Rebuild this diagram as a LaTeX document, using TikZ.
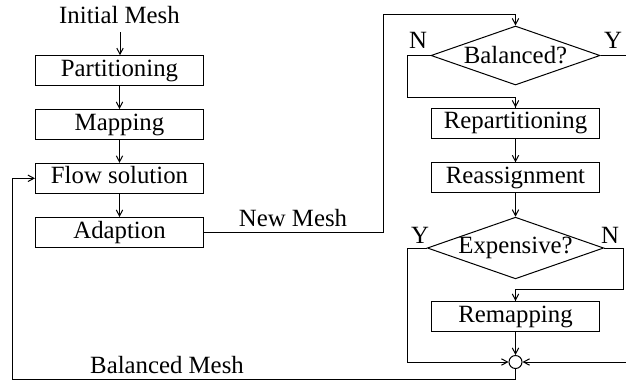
\documentclass[tikz,border=0pt]{standalone}
\usepackage{fontspec}
\setmainfont{Liberation Serif}
\usetikzlibrary{shapes.geometric,arrows.meta}
\begin{document}
\begin{tikzpicture}[x=0.5pt,y=-0.5pt,
  font=\fontsize{12.4}{14}\selectfont,
  line width=0.5pt,
  >={Straight Barb[length=3pt,width=3.2pt]},
  stepbox/.style={draw,rectangle,minimum width=84pt,minimum height=15pt,inner sep=0pt,
    text height=0.68em,text depth=0.12em},
  decision/.style={draw,diamond,aspect=2.86,minimum width=84.5pt,minimum height=29.5pt,inner sep=0pt},
  joint/.style={draw,circle,minimum size=6.5pt,inner sep=0pt},
  lbl/.style={anchor=base,inner sep=0pt}]
\useasboundingbox (0,0) rectangle (626,382);

% left column: mesh processing
\node[lbl] (init) at (119.5,23) {Initial Mesh};
\node[stepbox] (part)  at (119.5,70.7)  {Partitioning};
\node[stepbox] (map)   at (119.5,124.5) {Mapping};
\node[stepbox] (flow)  at (119.5,178.3) {Flow solution};
\node[stepbox] (adapt) at (119.5,232.5) {Adaption};

% right column: load balancing
\node[decision] (bal)      at (515.5,55.5)  {Balanced?};
\node[stepbox]  (repart)   at (515.5,123)   {Repartitioning};
\node[stepbox]  (reassign) at (515.5,177.8) {Reassignment};
\node[decision] (exp)      at (515.5,248)   {Expensive?};
\node[stepbox]  (remap)    at (515.5,316.5) {Remapping};
\node[joint]    (merge)    at (515.5,362)   {};

% branch labels
\node[lbl] (balN) at (418,48) {N};
\node[lbl] (balY) at (613,48) {Y};
\node[lbl] (expY) at (420,243) {Y};
\node[lbl] (expN) at (610,243) {N};
\node[lbl] (newmesh) at (293,226) {New Mesh};
\node[lbl] (balmesh) at (167,373) {Balanced Mesh};

% helper points
\coordinate (upR) at (383,14);
\coordinate (balNc) at (407,97);
\coordinate (balYe) at (626,55.5);
\coordinate (expYc) at (407,362);
\coordinate (expNc) at (623,289);
\coordinate (rightIn) at (626,362);
\coordinate (back) at (12,379);

% connectors
\draw[->] (120,32) -- (part.north -| 120,0);
\draw[->] (part) -- (map);
\draw[->] (map) -- (flow);
\draw[->] (flow) -- (adapt);
\draw[->] (adapt.east) -| (upR) -| (bal.north);
\draw (bal.west) -| (balNc) -| (repart.north);
\draw[->] (balNc -| repart.north) -- (repart.north);
\draw (bal.east) -- (balYe);
\draw[->] (repart) -- (reassign);
\draw[->] (reassign) -- (exp);
\draw[->] (exp.west) -| (expYc) -- (merge.west);
\draw (exp.east) -| (expNc) -| (remap.north);
\draw[->] (expNc -| remap.north) -- (remap.north);
\draw[->] (remap) -- (merge);
\draw[->] (rightIn) -- (merge.east);
\draw[->] (merge.south) |- (back) |- (flow.west);
\end{tikzpicture}
\end{document}
